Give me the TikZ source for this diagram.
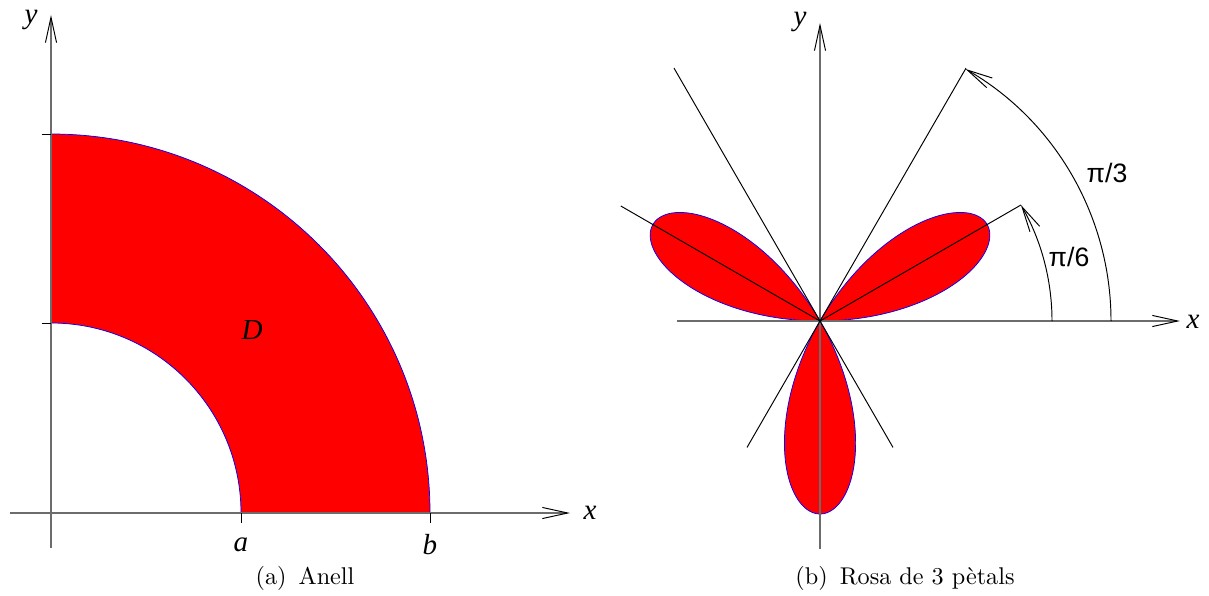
\documentclass[tikz,border=0pt]{standalone}
\usepackage{fontspec}
\newfontfamily\tms{Liberation Serif}
\newfontfamily\hel{Liberation Sans}
\usetikzlibrary{arrows.meta}
\begin{document}
\begin{tikzpicture}[x=0.4132pt,y=-0.4132pt,
  axis/.style={draw=gray!85!black, line width=0.6pt, -{Straight Barb[length=10.5pt,width=4.6pt,color=black,line width=0.4pt]}},
  thinline/.style={draw=black, line width=0.4pt},
  arcarrow/.style={draw=black, line width=0.4pt, -{Straight Barb[length=10.5pt,width=4.6pt,line width=0.4pt]}},
  ticks/.style={draw=black, line width=0.4pt},
  lbl/.style={font=\tms\itshape\fontsize{12}{14}\selectfont, inner sep=0pt},
  ang/.style={font=\hel\fontsize{11}{13}\selectfont, inner sep=0pt},
  captext/.style={font=\fontsize{10}{12}\selectfont, inner sep=0pt},
  boundary/.style={draw=blue, line width=0.3pt}]
\useasboundingbox (0,0) rectangle (1209,595);
% ---------- (a) Anell ----------
\begin{scope}[shift={(51,513)}, yscale=-1]
  \coordinate (O) at (0,0);
  \coordinate (A) at (190,0);
  \coordinate (B) at (379,0);
  \coordinate (YA) at (0,190);
  \coordinate (YB) at (0,379);
  \fill[red] (A) -- (B) arc[start angle=0,end angle=90,radius=379] -- (YA) arc[start angle=90,end angle=0,radius=190] -- cycle;
  \draw[boundary] (B) arc[start angle=0,end angle=90,radius=379];
  \draw[boundary] (YA) arc[start angle=90,end angle=0,radius=190];
  \coordinate (xs) at (-41,0);
  \coordinate (xe) at (519,0);
  \coordinate (ys) at (0,-35);
  \coordinate (ye) at (0,498);
  \draw[axis] (xs) -- (xe);
  \draw[axis] (ys) -- (ye);
  \coordinate (ta) at (190,-10);
  \coordinate (tb) at (379,-10);
  \coordinate (tya) at (-9,190);
  \coordinate (tyb) at (-9,379);
  \draw[ticks] (A) -- (ta);
  \draw[ticks] (B) -- (tb);
  \draw[ticks] (YA) -- (tya);
  \draw[ticks] (YB) -- (tyb);
  \node[lbl] (la) at (190,-32) {a};
  \node[lbl] (lb) at (379,-32) {b};
  \node[lbl] (lx) at (539,0) {x};
  \node[lbl] (ly) at (-20,493) {y};
  \node[lbl] (lD) at (201,183) {D};
\end{scope}
\node[captext] (capa) at (305,578) {(a)\enspace Anell};
% ---------- (b) Rosa ----------
\begin{scope}[shift={(820,321)}, yscale=-1]
  \coordinate (P) at (0,0);
  \fill[red] plot[domain=0:180, samples=361, smooth] ({193*sin(3*\x)*cos(\x)},{193*sin(3*\x)*sin(\x)}) -- cycle;
  \draw[boundary] plot[domain=0:180, samples=361, smooth] ({193*sin(3*\x)*cos(\x)},{193*sin(3*\x)*sin(\x)}) -- cycle;
  \coordinate (xs2) at (-143,0);
  \coordinate (xe2) at (360,0);
  \coordinate (ys2) at (0,-228);
  \coordinate (ye2) at (0,298);
  \draw[axis] (xs2) -- (xe2);
  \draw[axis] (ys2) -- (ye2);
  \coordinate (l1a) at (240:146);
  \coordinate (l1b) at (60:292);
  \coordinate (l2a) at (300:146);
  \coordinate (l2b) at (120:292);
  \coordinate (l3) at (30:232);
  \coordinate (l4) at (150:230);
  \draw[thinline] (l1a) -- (l1b);
  \draw[thinline] (l2a) -- (l2b);
  \draw[thinline] (P) -- (l3);
  \draw[thinline] (P) -- (l4);
  \coordinate (s6) at (232,0);
  \coordinate (s3) at (291,0);
  \draw[arcarrow] (s6) arc[start angle=0,end angle=30,radius=232];
  \draw[arcarrow] (s3) arc[start angle=0,end angle=60,radius=291];
  \node[ang] (p6) at (249,64) {π/6};
  \node[ang] (p3) at (287,148) {π/3};
  \node[lbl] (lx2) at (373,-1) {x};
  \node[lbl] (ly2) at (-20,299) {y};
\end{scope}
\node[captext] (capb) at (905,578) {(b)\enspace Rosa de 3 pètals};
\end{tikzpicture}
\end{document}
